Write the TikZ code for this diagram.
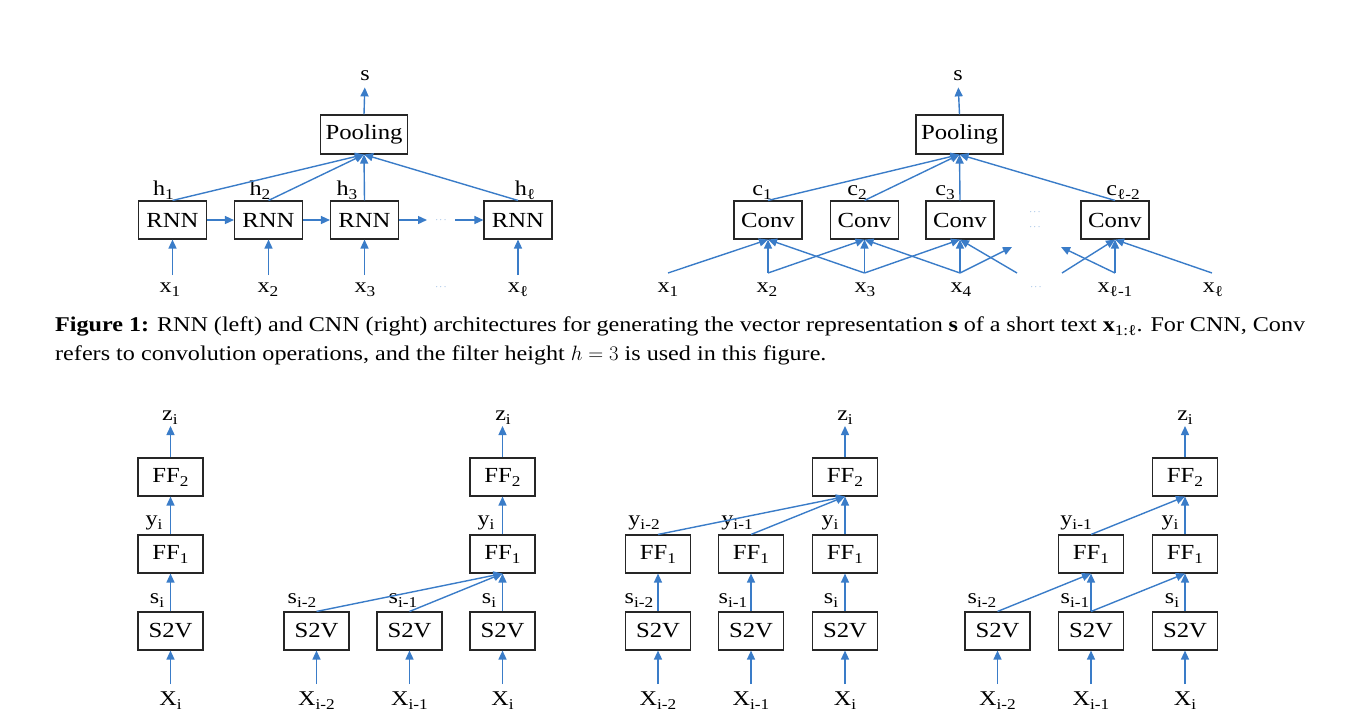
\documentclass[tikz,border=0pt]{standalone}
\usepackage{fontspec}
\setmainfont{Liberation Serif}[FakeStretch=1.15]
\usetikzlibrary{arrows.meta}

\definecolor{arrowblue}{RGB}{58,124,200}
\newcommand{\lsub}[1]{\raisebox{-4pt}{\fontsize{15}{15}\selectfont #1}}

\begin{document}
\begin{tikzpicture}[x=1pt, y=-1pt,
		blk/.style={draw=black!85, line width=1.1pt, minimum width=68pt, minimum height=38pt, inner sep=0pt, font=\fontsize{21.5}{23}\selectfont},
		ffbox/.style={blk, minimum width=65pt},
		lbl/.style={inner sep=0pt, anchor=base, font=\fontsize{21}{23}\selectfont},
		dotmark/.style={inner sep=0pt, text=arrowblue, font=\fontsize{9}{9}\selectfont},
		arr/.style={draw=arrowblue, line width=1.4pt, -{Triangle[length=9pt,width=8pt]}}]
		\useasboundingbox (0,0) rectangle (1364,720);

		\node[blk] (rnn1) at (172.5,220) {RNN};
		\node[blk] (rnn2) at (268.5,220) {RNN};
		\node[blk] (rnn3) at (364.5,220) {RNN};
		\node[blk] (rnn4) at (518,220) {RNN};
		\node[blk, minimum width=87pt, minimum height=39pt] (pool1) at (364,134.5) {Pooling};

		\node[lbl] (sr) at (365,80) {s};
		\node[lbl] (h1) at (163.5,195) {h\lsub{1}};
		\node[lbl] (h2) at (260,195) {h\lsub{2}};
		\node[lbl] (h3) at (347,195) {h\lsub{3}};
		\node[lbl] (hl) at (525,195) {h\lsub{ℓ}};
		\node[lbl] (xr1) at (170,292) {x\lsub{1}};
		\node[lbl] (xr2) at (268,292) {x\lsub{2}};
		\node[lbl] (xr3) at (365,292) {x\lsub{3}};
		\node[lbl] (xrl) at (518,292) {x\lsub{ℓ}};
		\node[dotmark] (rdots1) at (441,220) {$\cdots$};
		\node[dotmark] (rdots2) at (441,287) {$\cdots$};

		\coordinate (rin1) at (172.5,275);
		\coordinate (rin2) at (268.5,275);
		\coordinate (rin3) at (364.5,275);
		\coordinate (rin4) at (518,275);
		\coordinate (gap1) at (427,220);
		\coordinate (gap2) at (455,220);

		\draw[arr] (rin1) -- (rnn1);
		\draw[arr] (rin2) -- (rnn2);
		\draw[arr] (rin3) -- (rnn3);
		\draw[arr] (rin4) -- (rnn4);
		\draw[arr] (rnn1) -- (rnn2);
		\draw[arr] (rnn2) -- (rnn3);
		\draw[arr] (rnn3) -- (gap1);
		\draw[arr] (gap2) -- (rnn4);
		\draw[arr] (rnn1.north) -- (pool1.south);
		\draw[arr] (rnn2.north) -- (pool1.south);
		\draw[arr] (rnn3.north) -- (pool1.south);
		\draw[arr] (rnn4.north) -- (pool1.south);
		\draw[arr, shorten >=7pt] (pool1.north) -- (sr.south);

		\node[blk] (conv1) at (768,220) {Conv};
		\node[blk] (conv2) at (864.5,220) {Conv};
		\node[blk] (conv3) at (960,220) {Conv};
		\node[blk] (conv4) at (1115,220) {Conv};
		\node[blk, minimum width=87pt, minimum height=39pt] (pool2) at (959.5,134.5) {Pooling};

		\node[lbl] (sc) at (958,80) {s};
		\node[lbl] (c1) at (762,195) {c\lsub{1}};
		\node[lbl] (c2) at (857,195) {c\lsub{2}};
		\node[lbl] (c3) at (945,195) {c\lsub{3}};
		\node[lbl] (cl) at (1123,195) {c\lsub{ℓ-2}};
		\node[lbl] (xc1) at (668,292) {x\lsub{1}};
		\node[lbl] (xc2) at (767,292) {x\lsub{2}};
		\node[lbl] (xc3) at (865,292) {x\lsub{3}};
		\node[lbl] (xc4) at (961,292) {x\lsub{4}};
		\node[lbl] (xcl1) at (1115,292) {x\lsub{ℓ-1}};
		\node[lbl] (xcl) at (1213,292) {x\lsub{ℓ}};
		\node[dotmark] (cdots1) at (1035,212) {$\cdots$};
		\node[dotmark] (cdots2) at (1035,227) {$\cdots$};
		\node[dotmark] (cdots3) at (1036,287) {$\cdots$};

		\coordinate (a1) at (668,273);
		\coordinate (a2) at (768,273);
		\coordinate (a3) at (864.5,273);
		\coordinate (a4) at (960,273);
		\coordinate (a5) at (1017,273);
		\coordinate (a6) at (1062,273);
		\coordinate (a7) at (1115,273);
		\coordinate (a8) at (1212,273);
		\coordinate (t1) at (1012,247);
		\coordinate (t2) at (1061,247);

		\draw[arr] (a1) -- (conv1.south);
		\draw[arr] (a2) -- (conv1.south);
		\draw[arr] (a2) -- (conv2.south);
		\draw[arr] (a3) -- (conv1.south);
		\draw[arr] (a3) -- (conv2.south);
		\draw[arr] (a3) -- (conv3.south);
		\draw[arr] (a4) -- (conv2.south);
		\draw[arr] (a4) -- (conv3.south);
		\draw[arr] (a4) -- (t1);
		\draw[arr] (a5) -- (conv3.south);
		\draw[arr] (a6) -- (conv4.south);
		\draw[arr] (a7) -- (conv4.south);
		\draw[arr] (a7) -- (t2);
		\draw[arr] (a8) -- (conv4.south);
		\draw[arr] (conv1.north) -- (pool2.south);
		\draw[arr] (conv2.north) -- (pool2.south);
		\draw[arr] (conv3.north) -- (pool2.south);
		\draw[arr] (conv4.north) -- (pool2.south);
		\draw[arr, shorten >=7pt] (pool2.north) -- (sc.south);

		\node[anchor=base west, inner sep=0pt, font=\fontsize{21}{29}\selectfont] (cap1) at (55,331)
			{\makebox[1250pt][s]{\textbf{Figure 1:} RNN (left) and CNN (right) architectures for generating the vector representation \textbf{s} of a short text \textbf{x}\lsub{1:ℓ}. For CNN, Conv}};
		\node[anchor=base west, inner sep=0pt, font=\fontsize{21}{29}\selectfont] (cap2) at (55,360)
			{refers to convolution operations, and the filter height $h=3$ is used in this figure.};

		\node[ffbox] (pa2) at (170.5,477) {FF\lsub{2}};
		\node[ffbox] (pa1) at (170.5,554) {FF\lsub{1}};
		\node[ffbox] (pas) at (170.5,631) {S2V};
		\node[lbl] (paz) at (170,420) {z\lsub{i}};
		\node[lbl] (pay) at (154,525) {y\lsub{i}};
		\node[lbl] (pass) at (157,603) {s\lsub{i}};
		\node[lbl] (pax) at (170.5,705) {X\lsub{i}};
		\coordinate (paout) at (170.5,426);
		\coordinate (pain) at (170.5,684);
		\draw[arr] (pain) -- (pas);
		\draw[arr] (pas) -- (pa1);
		\draw[arr] (pa1) -- (pa2);
		\draw[arr] (pa2) -- (paout);

		\node[ffbox] (pb2) at (502.5,477) {FF\lsub{2}};
		\node[ffbox] (pb1) at (502.5,554) {FF\lsub{1}};
		\node[ffbox] (pbs1) at (316.5,631) {S2V};
		\node[ffbox] (pbs2) at (409.5,631) {S2V};
		\node[ffbox] (pbs3) at (502.5,631) {S2V};
		\node[lbl] (pbz) at (503,420) {z\lsub{i}};
		\node[lbl] (pby) at (486,525) {y\lsub{i}};
		\node[lbl] (pbss1) at (302,603) {s\lsub{i-2}};
		\node[lbl] (pbss2) at (403,603) {s\lsub{i-1}};
		\node[lbl] (pbss3) at (489,603) {s\lsub{i}};
		\node[lbl] (pbx1) at (316.5,705) {X\lsub{i-2}};
		\node[lbl] (pbx2) at (409.5,705) {X\lsub{i-1}};
		\node[lbl] (pbx3) at (502.5,705) {X\lsub{i}};
		\coordinate (pbout) at (502.5,426);
		\coordinate (pbin1) at (316.5,684);
		\coordinate (pbin2) at (409.5,684);
		\coordinate (pbin3) at (502.5,684);
		\draw[arr] (pbin1) -- (pbs1);
		\draw[arr] (pbin2) -- (pbs2);
		\draw[arr] (pbin3) -- (pbs3);
		\draw[arr] (pbs1.north) -- (pb1.south);
		\draw[arr] (pbs2.north) -- (pb1.south);
		\draw[arr] (pbs3.north) -- (pb1.south);
		\draw[arr] (pb1) -- (pb2);
		\draw[arr] (pb2) -- (pbout);

		\node[ffbox] (pc2) at (845,477) {FF\lsub{2}};
		\node[ffbox] (pcf1) at (658,554) {FF\lsub{1}};
		\node[ffbox] (pcf2) at (751,554) {FF\lsub{1}};
		\node[ffbox] (pcf3) at (845,554) {FF\lsub{1}};
		\node[ffbox] (pcs1) at (658,631) {S2V};
		\node[ffbox] (pcs2) at (751,631) {S2V};
		\node[ffbox] (pcs3) at (845,631) {S2V};
		\node[lbl] (pcz) at (845,420) {z\lsub{i}};
		\node[lbl] (pcy1) at (644,525) {y\lsub{i-2}};
		\node[lbl] (pcy2) at (737,525) {y\lsub{i-1}};
		\node[lbl] (pcy3) at (830,525) {y\lsub{i}};
		\node[lbl] (pcss1) at (639,603) {s\lsub{i-2}};
		\node[lbl] (pcss2) at (733,603) {s\lsub{i-1}};
		\node[lbl] (pcss3) at (831,603) {s\lsub{i}};
		\node[lbl] (pcx1) at (658,705) {X\lsub{i-2}};
		\node[lbl] (pcx2) at (751,705) {X\lsub{i-1}};
		\node[lbl] (pcx3) at (845,705) {X\lsub{i}};
		\coordinate (pcout) at (845,426);
		\coordinate (pcin1) at (658,684);
		\coordinate (pcin2) at (751,684);
		\coordinate (pcin3) at (845,684);
		\draw[arr] (pcin1) -- (pcs1);
		\draw[arr] (pcin2) -- (pcs2);
		\draw[arr] (pcin3) -- (pcs3);
		\draw[arr] (pcs1) -- (pcf1);
		\draw[arr] (pcs2) -- (pcf2);
		\draw[arr] (pcs3) -- (pcf3);
		\draw[arr] (pcf1.north) -- (pc2.south);
		\draw[arr] (pcf2.north) -- (pc2.south);
		\draw[arr] (pcf3.north) -- (pc2.south);
		\draw[arr] (pc2) -- (pcout);

		\node[ffbox] (pd2) at (1185,477) {FF\lsub{2}};
		\node[ffbox] (pdf1) at (1091,554) {FF\lsub{1}};
		\node[ffbox] (pdf2) at (1185,554) {FF\lsub{1}};
		\node[ffbox] (pds1) at (997.5,631) {S2V};
		\node[ffbox] (pds2) at (1091,631) {S2V};
		\node[ffbox] (pds3) at (1185,631) {S2V};
		\node[lbl] (pdz) at (1185,420) {z\lsub{i}};
		\node[lbl] (pdy1) at (1076,525) {y\lsub{i-1}};
		\node[lbl] (pdy2) at (1170,525) {y\lsub{i}};
		\node[lbl] (pdss1) at (982,603) {s\lsub{i-2}};
		\node[lbl] (pdss2) at (1075,603) {s\lsub{i-1}};
		\node[lbl] (pdss3) at (1172,603) {s\lsub{i}};
		\node[lbl] (pdx1) at (997.5,705) {X\lsub{i-2}};
		\node[lbl] (pdx2) at (1091,705) {X\lsub{i-1}};
		\node[lbl] (pdx3) at (1185,705) {X\lsub{i}};
		\coordinate (pdout) at (1185,426);
		\coordinate (pdin1) at (997.5,684);
		\coordinate (pdin2) at (1091,684);
		\coordinate (pdin3) at (1185,684);
		\draw[arr] (pdin1) -- (pds1);
		\draw[arr] (pdin2) -- (pds2);
		\draw[arr] (pdin3) -- (pds3);
		\draw[arr] (pds1.north) -- (pdf1.south);
		\draw[arr] (pds2.north) -- (pdf1.south);
		\draw[arr] (pds2.north) -- (pdf2.south);
		\draw[arr] (pds3.north) -- (pdf2.south);
		\draw[arr] (pdf1.north) -- (pd2.south);
		\draw[arr] (pdf2.north) -- (pd2.south);
		\draw[arr] (pd2) -- (pdout);
	\end{tikzpicture}
\end{document}
